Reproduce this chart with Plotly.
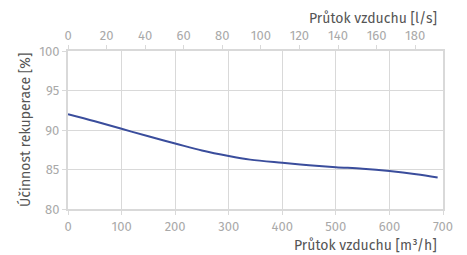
import plotly.graph_objects as go

flow_m3h = [0, 50, 100, 150, 200, 250, 300, 340, 400, 450, 500, 550, 600, 650, 690]
efficiency = [92.0, 91.1, 90.15, 89.2, 88.3, 87.4, 86.7, 86.25, 85.85, 85.55, 85.3, 85.1, 84.8, 84.4, 84.0]

x_ticks = [0, 100, 200, 300, 400, 500, 600, 700]
x2_ticks = [0, 20, 40, 60, 80, 100, 120, 140, 160, 180]
y_ticks = [80, 85, 90, 95, 100]

FONT = "Fira Sans, Noto Sans, Open Sans, sans-serif"
TICK_COL = "#a9a9a9"
TITLE_COL = "#555555"
GRID = "#d9d9d9"

fig = go.Figure()
fig.add_trace(go.Scatter(x=flow_m3h, y=efficiency, mode="lines",
                         line=dict(color="#3a4d9c", width=2, shape="spline"),
                         showlegend=False, hoverinfo="skip"))
fig.add_trace(go.Scatter(x=[0, 700 / 3.6], y=[None, None], xaxis="x2",
                         mode="lines", showlegend=False, hoverinfo="skip"))

# page body has an 8px default margin, so the figure is offset by 8px
fig.update_layout(
    width=459, height=247,
    margin=dict(l=60, r=24, t=43, b=46),
    paper_bgcolor="white", plot_bgcolor="white",
    font=dict(family=FONT, size=13, color=TICK_COL),
    xaxis=dict(range=[0, 700], tickvals=x_ticks, showgrid=True, gridcolor=GRID, gridwidth=1,
               showline=True, linecolor=GRID, linewidth=2, ticks="outside", ticklen=4,
               tickcolor=GRID, zeroline=False, tickfont=dict(color=TICK_COL, size=13),
               mirror=False, automargin=False),
    xaxis2=dict(range=[0, 700 / 3.6], tickvals=x2_ticks, overlaying="x", side="top",
                showgrid=False, showline=True, linecolor=GRID, linewidth=2, ticks="outside",
                ticklen=4, tickcolor=GRID, zeroline=False, tickfont=dict(color=TICK_COL, size=13),
                automargin=False),
    yaxis=dict(range=[80, 100], tickvals=y_ticks, showgrid=True, gridcolor=GRID, gridwidth=1,
               showline=True, linecolor=GRID, linewidth=2, ticks="outside", ticklen=4,
               tickcolor=GRID, zeroline=False, tickfont=dict(color=TICK_COL, size=13),
               mirror=True, automargin=False),
    annotations=[
        dict(text="Průtok vzduchu [l/s]", xref="paper", yref="paper", x=0.99, y=1.0,
             xanchor="right", yanchor="middle", yshift=33, showarrow=False,
             font=dict(family=FONT, size=14, color=TITLE_COL)),
        dict(text="Průtok vzduchu [m³/h]", xref="paper", yref="paper", x=0.99, y=0.0,
             xanchor="right", yanchor="middle", yshift=-36, showarrow=False,
             font=dict(family=FONT, size=14, color=TITLE_COL)),
        dict(text="Účinnost rekuperace [%]", xref="paper", yref="paper", x=0.0, y=0.5,
             xanchor="center", yanchor="middle", xshift=-43, textangle=-90, showarrow=False,
             font=dict(family=FONT, size=14, color=TITLE_COL)),
    ],
)

fig.write_html("out.html")
